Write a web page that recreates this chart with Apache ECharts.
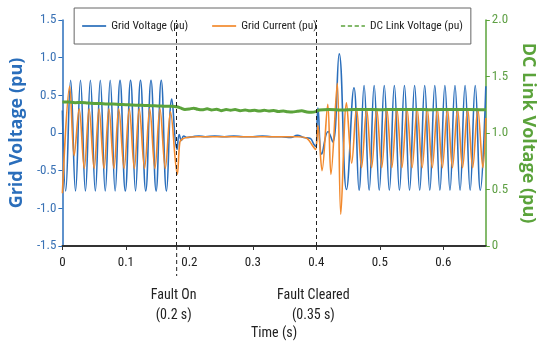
<!DOCTYPE html>
<html>
<head>
<meta charset="utf-8">
<script src="https://cdn.jsdelivr.net/npm/echarts@6/dist/echarts.min.js"></script>
<style>
  html, body { margin: 0; padding: 0; background: #fff; }
  #chart { width: 545px; height: 345px; }
</style>
</head>
<body>
<div id="chart"></div>
<script>
// grid voltage (pu) at its peaks / troughs / bends
var vTime = [
  0.000, 0.0052, 0.0130, 0.0207, 0.0285, 0.0363, 0.0441, 0.0519, 0.0597, 0.0675,
  0.0753, 0.0831, 0.0908, 0.0991, 0.1074, 0.1152, 0.1230, 0.1313, 0.1396, 0.1476,
  0.1557, 0.1640, 0.1723, 0.1805, 0.1840, 0.1875, 0.1910, 0.1960, 0.205, 0.215,
  0.225, 0.240, 0.255, 0.270, 0.285, 0.300, 0.315, 0.330, 0.345, 0.360,
  0.370, 0.380, 0.390, 0.396, 0.399, 0.4025, 0.4086, 0.4185, 0.4260, 0.4360,
  0.4475, 0.4593, 0.4673, 0.4752, 0.4832, 0.4911, 0.4991, 0.5070, 0.5150, 0.5229,
  0.5309, 0.5388, 0.5468, 0.5548, 0.5628, 0.5707, 0.5787, 0.5866, 0.5946, 0.6025,
  0.6105, 0.6184, 0.6264, 0.6343, 0.6423, 0.6503, 0.6583, 0.6670
]
var vVal = [
  0.30, -0.77, 0.70, -0.77, 0.70, -0.77, 0.70, -0.77, 0.70, -0.77,
  0.70, -0.77, 0.70, -0.77, 0.70, -0.77, 0.70, -0.77, 0.70, -0.77,
  0.70, -0.77, 0.45, -0.22, -0.02, -0.10, -0.04, -0.06, -0.05, -0.04,
  -0.05, -0.04, -0.05, -0.04, -0.05, -0.05, -0.04, -0.05, -0.05, -0.06,
  -0.03, -0.06, -0.07, -0.15, -0.18, 0.33, -0.28, 0.02, -0.12, 1.05,
  -0.75, 0.60, -0.76, 0.63, -0.76, 0.63, -0.76, 0.63, -0.76, 0.63,
  -0.76, 0.63, -0.76, 0.63, -0.76, 0.63, -0.76, 0.63, -0.76, 0.63,
  -0.76, 0.63, -0.76, 0.63, -0.76, 0.63, -0.76, 0.62
]

// grid current (pu)
var iTime = [
  0.000, 0.0115, 0.0185, 0.0265, 0.0345, 0.0421, 0.0500, 0.0577, 0.0656, 0.0733,
  0.0812, 0.0888, 0.0972, 0.1054, 0.1133, 0.1210, 0.1294, 0.1376, 0.1457, 0.1537,
  0.1621, 0.1703, 0.1810, 0.1850, 0.1890, 0.196, 0.210, 0.230, 0.250, 0.270,
  0.290, 0.310, 0.330, 0.350, 0.370, 0.385, 0.395, 0.399, 0.4025, 0.4090,
  0.4180, 0.4230, 0.4330, 0.4385, 0.4475, 0.4557, 0.4633, 0.4712, 0.4792, 0.4871,
  0.4951, 0.5030, 0.5110, 0.5189, 0.5269, 0.5348, 0.5428, 0.5508, 0.5588, 0.5667,
  0.5747, 0.5826, 0.5906, 0.5985, 0.6065, 0.6144, 0.6224, 0.6303, 0.6383, 0.6463,
  0.6543, 0.6623, 0.6670
]
var iVal = [
  -0.80, 0.62, -0.30, 0.32, -0.47, 0.32, -0.47, 0.32, -0.47, 0.32,
  -0.47, 0.32, -0.47, 0.32, -0.47, 0.32, -0.47, 0.32, -0.47, 0.32,
  -0.47, 0.28, -0.55, -0.12, -0.08, -0.06, -0.05, -0.05, -0.05, -0.05,
  -0.05, -0.05, -0.05, -0.05, -0.05, -0.07, -0.18, -0.22, 0.10, -0.50,
  0.38, -0.55, 0.66, -1.08, 0.40, -0.40, 0.33, -0.46, 0.32, -0.46,
  0.32, -0.46, 0.32, -0.46, 0.32, -0.46, 0.32, -0.46, 0.32, -0.46,
  0.32, -0.46, 0.32, -0.46, 0.32, -0.46, 0.32, -0.46, 0.32, -0.46,
  0.32, -0.46, 0.20
]

// dc link voltage (pu), right axis
var dcTime = [
  0.000, 0.010, 0.020, 0.030, 0.040, 0.050, 0.060, 0.070, 0.080, 0.090,
  0.100, 0.110, 0.120, 0.130, 0.140, 0.150, 0.160, 0.170, 0.180, 0.186,
  0.193, 0.200, 0.207, 0.213, 0.220, 0.228, 0.235, 0.243, 0.250, 0.258,
  0.265, 0.272, 0.280, 0.288, 0.295, 0.303, 0.310, 0.318, 0.325, 0.333,
  0.340, 0.348, 0.355, 0.362, 0.370, 0.377, 0.385, 0.392, 0.399, 0.405,
  0.420, 0.440, 0.460, 0.480, 0.500, 0.520, 0.540, 0.560, 0.580, 0.600,
  0.620, 0.640, 0.667
]
var dcVal = [
  1.275, 1.274, 1.268, 1.270, 1.265, 1.262, 1.261, 1.256, 1.256, 1.252,
  1.251, 1.247, 1.246, 1.243, 1.242, 1.239, 1.237, 1.236, 1.232, 1.222,
  1.208, 1.212, 1.220, 1.210, 1.205, 1.214, 1.204, 1.210, 1.198, 1.207,
  1.202, 1.207, 1.197, 1.204, 1.196, 1.201, 1.194, 1.201, 1.195, 1.199,
  1.190, 1.194, 1.188, 1.185, 1.192, 1.196, 1.186, 1.183, 1.189, 1.203,
  1.208, 1.204, 1.209, 1.208, 1.206, 1.209, 1.207, 1.209, 1.206, 1.209,
  1.207, 1.209, 1.206
]

var faultOn = 0.180
var faultClear = 0.400
var faultLabels = [['Fault On', '(0.2 s)'], ['Fault Cleared', '(0.35 s)']]

var FONT = '"Roboto Condensed", "DejaVu Sans Condensed", sans-serif'
var NAME_FONT = '"Open Sans", sans-serif'
var BLUE = '#2a6ebb'
var ORANGE = '#f28a2e'
var GREEN = '#5ba33b'

function pairs(ts, vs) {
  return ts.map(function (t, i) { return [t, vs[i]] })
}

function fmt(v) {
  return v === 0 ? '0' : v.toFixed(1)
}

var chart = echarts.init(document.getElementById('chart'), null, { renderer: 'canvas' })

var solidIcon = 'path://M0,5 L28,5 L28,7 L0,7 Z'
var dashIcon = 'path://M0,5 L5,5 L5,7 L0,7 Z M8,5 L13,5 L13,7 L8,7 Z M16,5 L21,5 L21,7 L16,7 Z M24,5 L28,5 L28,7 L24,7 Z'

var option = {
  animation: false,
  textStyle: { fontFamily: FONT },
  grid: { left: 54, right: 46, top: 20, bottom: 94 },
  legend: {
    top: 8,
    left: 'center',
    padding: [12, 8, 12, 8],
    itemGap: 24,
    itemWidth: 24,
    itemHeight: 12,
    borderColor: '#666',
    borderWidth: 1,
    backgroundColor: '#fff',
    textStyle: { fontFamily: FONT, fontSize: 11.5, color: '#222' },
    data: [
      { name: 'Grid Voltage (pu)', icon: solidIcon, itemStyle: { color: BLUE } },
      { name: 'Grid Current (pu)', icon: solidIcon, itemStyle: { color: ORANGE } },
      { name: 'DC Link Voltage (pu)', icon: dashIcon, itemStyle: { color: GREEN } }
    ]
  },
  xAxis: {
    type: 'value',
    min: 0,
    max: 0.667,
    interval: 0.1,
    name: 'Time (s)',
    nameLocation: 'middle',
    nameGap: 80,
    nameTextStyle: { fontFamily: FONT, fontSize: 14, color: '#222' },
    axisLine: { onZero: false, lineStyle: { color: '#333', width: 1.8 } },
    axisTick: { length: 4, lineStyle: { color: '#333' } },
    axisLabel: {
      fontFamily: FONT, fontSize: 13, color: '#222', margin: 10, showMaxLabel: false,
      formatter: fmt
    },
    splitLine: { show: false }
  },
  yAxis: [
    {
      type: 'value',
      min: -1.5,
      max: 1.5,
      interval: 0.5,
      name: 'Grid Voltage (pu)',
      nameLocation: 'middle',
      nameRotate: 90,
      nameGap: 29,
      nameTextStyle: { fontFamily: NAME_FONT, fontSize: 18, fontWeight: 'bold', color: BLUE },
      axisLine: { show: true, onZero: false, lineStyle: { color: BLUE, width: 1.5 } },
      axisTick: { show: true, length: 4, lineStyle: { color: BLUE } },
      axisLabel: { fontFamily: FONT, fontSize: 13, color: '#3a72b5', margin: 6, formatter: fmt },
      splitLine: { show: false }
    },
    {
      type: 'value',
      min: 0,
      max: 2,
      interval: 0.5,
      name: 'DC Link Voltage (pu)',
      nameLocation: 'middle',
      nameRotate: -90,
      nameGap: 33,
      nameTextStyle: { fontFamily: NAME_FONT, fontSize: 18, fontWeight: 'bold', color: GREEN },
      axisLine: { show: true, onZero: false, lineStyle: { color: GREEN, width: 1.5 } },
      axisTick: { show: true, length: 4, lineStyle: { color: GREEN } },
      axisLabel: { fontFamily: FONT, fontSize: 13, color: '#5fa045', margin: 6, formatter: fmt },
      splitLine: { show: false }
    }
  ],
  series: [
    {
      name: 'Grid Voltage (pu)',
      type: 'line',
      data: pairs(vTime, vVal),
      smooth: 0.45,
      symbol: 'none',
      lineStyle: { color: BLUE, width: 1.6 },
      itemStyle: { color: BLUE },
      z: 2,
      markLine: {
        silent: true,
        symbol: ['none', 'none'],
        label: { show: false },
        lineStyle: { type: [4, 3], color: '#222', width: 1 },
        data: [{ xAxis: faultOn }, { xAxis: faultClear }]
      }
    },
    {
      name: 'Grid Current (pu)',
      type: 'line',
      data: pairs(iTime, iVal),
      smooth: 0.35,
      symbol: 'none',
      lineStyle: { color: ORANGE, width: 1.6 },
      itemStyle: { color: ORANGE },
      z: 3
    },
    {
      name: 'DC Link Voltage (pu)',
      type: 'line',
      yAxisIndex: 1,
      data: pairs(dcTime, dcVal),
      smooth: 0.3,
      symbol: 'none',
      lineStyle: { color: GREEN, width: 3 },
      itemStyle: { color: GREEN },
      z: 4
    }
  ]
}
chart.setOption(option)

// the fault-on marker runs on below the axis; both get captions
var yBottom = chart.convertToPixel({ yAxisIndex: 0 }, -1.5)
var extras = []
;[faultOn, faultClear].forEach(function (t, i) {
  var x = chart.convertToPixel({ xAxisIndex: 0 }, t)
  if (i === 0) {
    extras.push({
      type: 'line',
      shape: { x1: x, y1: yBottom, x2: x, y2: yBottom + 30 },
      style: { stroke: '#222', lineWidth: 1, lineDash: [4, 3] },
      silent: true
    })
  }
  extras.push({
    type: 'text',
    x: x - 3,
    y: yBottom + 39,
    style: {
      text: faultLabels[i].join('\n'),
      fill: '#222',
      font: '14px ' + FONT,
      align: 'center',
      lineHeight: 20
    },
    silent: true
  })
})
chart.setOption({ graphic: extras })
</script>
</body>
</html>
